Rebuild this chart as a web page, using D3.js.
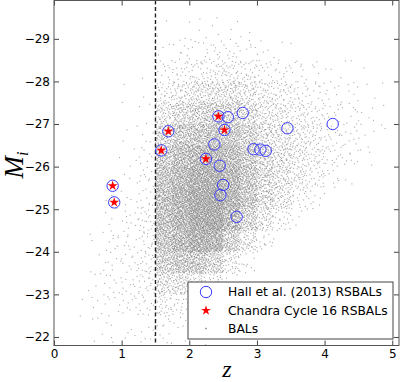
<!DOCTYPE html>
<html>
<head>
<meta charset="utf-8">
<script src="https://cdn.jsdelivr.net/npm/d3@7"></script>
<style>
  body { margin: 0; background: #fff; }
</style>
</head>
<body>
<script>
var svgWidth = 400;
var svgHeight = 382;

// Hall et al. (2013) RSBALs (redshift, absolute magnitude)
var hallZ = [2.43, 2.57, 2.79, 1.69, 2.52, 1.585, 2.37, 2.245, 2.95, 3.05, 3.13, 2.45, 2.50, 2.46, 2.70, 3.45, 4.12, 0.867, 0.89];
var hallM = [-27.18, -27.16, -27.26, -26.83, -26.86, -26.38, -26.52, -26.18, -26.41, -26.40, -26.37, -26.02, -25.57, -25.33, -24.82, -26.90, -27.00, -25.55, -25.16];

// Chandra Cycle 16 RSBALs
var chandraZ = [2.43, 1.69, 2.52, 1.585, 2.245, 0.867, 0.89];
var chandraM = [-27.18, -26.83, -26.86, -26.38, -26.18, -25.55, -25.16];

var balZEdges = [0, 0.25, 0.5, 0.75, 1.0, 1.25, 1.5, 1.75, 2.0, 2.25, 2.5, 2.75, 3.0, 3.25, 3.5, 3.75, 4.0, 4.25, 4.5, 4.75, 5.0];
var balMEdges = [-21.8, -22.5, -23, -23.5, -24, -24.5, -25, -25.5, -26, -26.5, -27, -27.5, -28, -28.5, -29, -29.5];
// one row per M bin (faint end first), one column per z bin
var balCounts = [
  [0, 1, 3, 5, 6, 8, 12, 6, 2, 0, 0, 0, 0, 0, 0, 0, 0, 0, 0, 0],
  [0, 2, 5, 7, 9, 12, 28, 20, 10, 3, 0, 0, 0, 0, 0, 0, 0, 0, 0, 0],
  [0, 1, 5, 8, 11, 16, 75, 75, 50, 28, 6, 0, 0, 0, 0, 0, 0, 0, 0, 0],
  [0, 0, 3, 8, 12, 20, 140, 170, 170, 120, 45, 10, 0, 0, 0, 0, 0, 0, 0, 0],
  [0, 0, 2, 7, 11, 20, 190, 240, 290, 270, 140, 55, 14, 0, 0, 0, 0, 0, 0, 0],
  [0, 0, 1, 5, 9, 18, 210, 260, 320, 330, 240, 130, 55, 18, 5, 0, 0, 0, 0, 0],
  [0, 0, 0, 2, 6, 13, 210, 260, 320, 330, 270, 175, 95, 55, 22, 8, 0, 0, 0, 0],
  [0, 0, 0, 1, 4, 9, 190, 240, 290, 300, 255, 175, 105, 70, 42, 22, 8, 3, 0, 0],
  [0, 0, 0, 1, 3, 7, 160, 210, 240, 255, 225, 160, 95, 70, 45, 30, 15, 7, 3, 0],
  [0, 0, 0, 0, 2, 5, 110, 160, 175, 190, 175, 130, 80, 60, 42, 27, 15, 9, 4, 1],
  [0, 0, 0, 0, 1, 3, 60, 95, 120, 130, 120, 88, 55, 44, 30, 21, 12, 7, 4, 1],
  [0, 0, 0, 0, 1, 2, 30, 45, 62, 70, 70, 55, 35, 27, 18, 12, 7, 4, 3, 1],
  [0, 0, 0, 0, 0, 1, 12, 18, 23, 30, 30, 23, 15, 12, 7, 4, 3, 1, 1, 0],
  [0, 0, 0, 0, 0, 0, 4, 6, 9, 10, 10, 7, 4, 3, 1, 0, 0, 0, 0, 0],
  [0, 0, 0, 0, 0, 0, 1, 1, 3, 3, 3, 1, 0, 0, 0, 0, 0, 0, 0, 0]
];

var xTicks = [0, 1, 2, 3, 4, 5];
var yTicks = [-22, -23, -24, -25, -26, -27, -28, -29];
var zCut = 1.5;

var legendLabels = ["Hall et al. (2013) RSBALs", "Chandra Cycle 16 RSBALs", "BALs"];

// axes box
var plotLeft = 54, plotRight = 399, plotTop = 0.5, plotBottom = 345.5;
var sans = "DejaVu Sans, sans-serif";
var serif = "Liberation Serif, DejaVu Serif, serif";

var svg = d3.select("body").append("svg")
  .attr("width", svgWidth)
  .attr("height", svgHeight);

var x = d3.scaleLinear().domain([0, 5.1]).range([plotLeft, plotRight]);
var y = d3.scaleLinear().domain([-21.8, -29.9]).range([plotBottom, plotTop]);

// radical inverse (Halton), gives an even, lattice-free spread of dots
function halton(k, b) {
  var f = 1, r = 0;
  while (k > 0) { f /= b; r += f * (k % b); k = Math.floor(k / b); }
  return r;
}

// sweep the whole grid and keep each candidate with a chance set by its cell count,
// so every cell ends up with about the number of dots read for it
var maxCount = d3.max(balCounts, function (r) { return d3.max(r); });
var zLo = balZEdges[0], zHi = balZEdges[balZEdges.length - 1];
var mLo = balMEdges[0], mHi = balMEdges[balMEdges.length - 1];
var cellsZ = balZEdges.length - 1;
var stdH = 0.5;
var nCand = Math.round(maxCount * cellsZ * Math.abs(mHi - mLo) / stdH);
var zBin = d3.bisector(function (d) { return d; }).right;

var balPoints = [];
for (var k = 1; k <= nCand; k++) {
  var z = zLo + halton(k, 2) * (zHi - zLo);
  var m = mLo + halton(k, 3) * (mHi - mLo);
  var j = Math.min(zBin(balZEdges, z) - 1, cellsZ - 1);
  var i = 0;
  while (i < balMEdges.length - 2 && m < balMEdges[i + 1]) i++;
  var h = Math.abs(balMEdges[i + 1] - balMEdges[i]);
  var p = balCounts[i][j] / maxCount * stdH / h;
  if (halton(k, 5) < p) balPoints.push({ z: z, m: m });
}

svg.append("defs").append("clipPath").attr("id", "clip")
  .append("rect")
  .attr("x", plotLeft).attr("y", plotTop)
  .attr("width", plotRight - plotLeft).attr("height", plotBottom - plotTop);

var plot = svg.append("g").attr("clip-path", "url(#clip)");

plot.append("g").selectAll("rect")
  .data(balPoints).enter()
  .append("rect")
  .attr("x", function (d) { return x(d.z) - 0.55; })
  .attr("y", function (d) { return y(d.m) - 0.55; })
  .attr("width", 1.1)
  .attr("height", 1.1)
  .attr("fill", "#666")
  .attr("fill-opacity", 0.55);

plot.append("line")
  .attr("x1", x(zCut)).attr("x2", x(zCut))
  .attr("y1", plotTop).attr("y2", plotBottom)
  .attr("stroke", "#222")
  .attr("stroke-width", 1.4)
  .attr("stroke-dasharray", "4,2.5");

plot.append("g").selectAll("circle")
  .data(hallZ).enter()
  .append("circle")
  .attr("cx", function (d) { return x(d); })
  .attr("cy", function (d, i) { return y(hallM[i]); })
  .attr("r", 5.7)
  .attr("fill", "none")
  .attr("stroke", "#3a3aff")
  .attr("stroke-width", 1);

var star = d3.symbol().type(d3.symbolStar).size(30);
plot.append("g").selectAll("path")
  .data(chandraZ).enter()
  .append("path")
  .attr("d", star)
  .attr("transform", function (d, i) { return "translate(" + x(d) + "," + y(chandraM[i]) + ")"; })
  .attr("fill", "#ff0000");

// ticks on all four sides, pointing inwards
function styleAxis(g) {
  g.select(".domain").remove();
  g.selectAll("line").attr("stroke", "#444");
  g.selectAll("text").attr("font-size", 12).attr("fill", "#000")
    .attr("font-family", sans);
}

svg.append("g")
  .attr("transform", "translate(0," + plotBottom + ")")
  .call(d3.axisBottom(x).tickValues(xTicks).tickSize(-5).tickPadding(4).tickFormat(d3.format("d")))
  .call(styleAxis);
svg.append("g")
  .attr("transform", "translate(0," + plotTop + ")")
  .call(d3.axisTop(x).tickValues(xTicks).tickSize(-5).tickFormat(""))
  .call(styleAxis);
svg.append("g")
  .attr("transform", "translate(" + plotLeft + ",0)")
  .call(d3.axisLeft(y).tickValues(yTicks).tickSize(-5).tickPadding(4).tickFormat(d3.format("d")))
  .call(styleAxis);
svg.append("g")
  .attr("transform", "translate(" + plotRight + ",0)")
  .call(d3.axisRight(y).tickValues(yTicks).tickSize(-5).tickFormat(""))
  .call(styleAxis);

svg.append("rect")
  .attr("x", plotLeft).attr("y", plotTop)
  .attr("width", plotRight - plotLeft).attr("height", plotBottom - plotTop)
  .attr("fill", "none")
  .attr("stroke", "#555")
  .attr("stroke-width", 1);

// axis labels
svg.append("text")
  .attr("x", 227).attr("y", 377)
  .attr("text-anchor", "middle")
  .attr("font-family", serif)
  .attr("font-style", "italic")
  .attr("font-size", 24)
  .text("z");

var ylab = svg.append("text")
  .attr("transform", "translate(23,165) rotate(-90)")
  .attr("text-anchor", "middle")
  .attr("font-family", serif)
  .attr("font-style", "italic")
  .attr("font-size", 27);
ylab.append("tspan").text("M");
ylab.append("tspan").attr("font-size", 16).attr("dy", 5).text("i");

// legend
var legend = svg.append("g");
legend.append("rect")
  .attr("x", 188).attr("y", 282)
  .attr("width", 205).attr("height", 57)
  .attr("fill", "#fff")
  .attr("stroke", "#444")
  .attr("stroke-width", 1);

var legendY = [292, 310.5, 328.5];
legend.append("circle")
  .attr("cx", 206).attr("cy", legendY[0]).attr("r", 5.7)
  .attr("fill", "none").attr("stroke", "#3a3aff").attr("stroke-width", 1);
legend.append("path")
  .attr("d", star)
  .attr("transform", "translate(206," + legendY[1] + ")")
  .attr("fill", "#ff0000");
legend.append("rect")
  .attr("x", 205.3).attr("y", legendY[2] - 0.7)
  .attr("width", 1.4).attr("height", 1.4)
  .attr("fill", "#777");

legend.selectAll("text.lab")
  .data(legendLabels).enter()
  .append("text")
  .attr("class", "lab")
  .attr("x", 228)
  .attr("y", function (d, i) { return legendY[i] + 4; })
  .attr("font-family", sans)
  .attr("font-size", 12.3)
  .text(function (d) { return d; });
</script>
</body>
</html>
